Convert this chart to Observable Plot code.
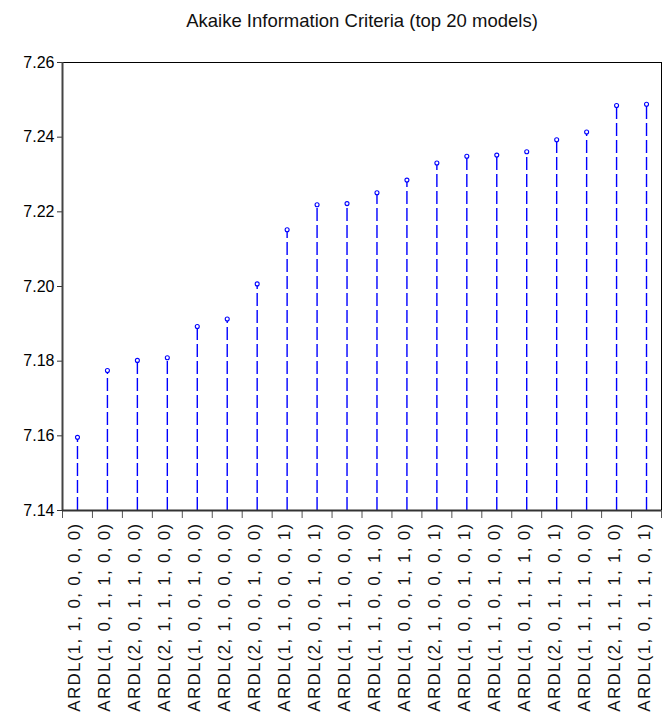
<!DOCTYPE html>
<html>
<head>
<meta charset="utf-8">
<script src="https://cdn.jsdelivr.net/npm/d3@7"></script>
<script src="https://cdn.jsdelivr.net/npm/@observablehq/plot@0.6"></script>
<style>
  body { margin: 0; background: #fff; font-family: "Liberation Sans", Arial, sans-serif; }
  #title { height: 40px; width: 670px; position: relative; }
  #title span { position: absolute; left: 362px; top: 10px; transform: translateX(-50%); font-size: 18.5px; white-space: nowrap; color: #111; font-family: "Liberation Sans Narrow", "Liberation Sans", Arial, sans-serif; }
  g[aria-label="text"] text { letter-spacing: 1.3px; }
</style>
</head>
<body>
<div id="title"><span>Akaike Information Criteria (top 20 models)</span></div>
<div id="chart"></div>
<script>
const models = [
  "ARDL(1, 1, 0, 0, 0, 0)", "ARDL(1, 0, 1, 1, 0, 0)", "ARDL(2, 0, 1, 1, 0, 0)", "ARDL(2, 1, 1, 1, 0, 0)",
  "ARDL(1, 0, 0, 1, 0, 0)", "ARDL(2, 1, 0, 0, 0, 0)", "ARDL(2, 0, 0, 1, 0, 0)", "ARDL(1, 1, 0, 0, 0, 1)",
  "ARDL(2, 0, 0, 1, 0, 1)", "ARDL(1, 1, 1, 0, 0, 0)", "ARDL(1, 1, 0, 0, 1, 0)", "ARDL(1, 0, 0, 1, 1, 0)",
  "ARDL(2, 1, 0, 0, 0, 1)", "ARDL(1, 0, 0, 1, 0, 1)", "ARDL(1, 1, 0, 1, 0, 0)", "ARDL(1, 0, 1, 1, 1, 0)",
  "ARDL(2, 0, 1, 1, 0, 1)", "ARDL(1, 1, 1, 1, 0, 0)", "ARDL(2, 1, 1, 1, 1, 0)", "ARDL(1, 0, 1, 1, 0, 1)"
];
const aic = [
  7.1596, 7.1775, 7.1802, 7.1809, 7.1893, 7.1913, 7.2007, 7.2152, 7.2219, 7.2222,
  7.2251, 7.2285, 7.2331, 7.2349, 7.2352, 7.2361, 7.2393, 7.2414, 7.2485, 7.2488
];
const yTicks = [7.14, 7.16, 7.18, 7.20, 7.22, 7.24, 7.26];

const data = models.map((m, i) => ({model: m, pos: i + 0.5, value: aic[i]}));
const boundaries = d3.range(0, models.length + 1);
const yMin = yTicks[0], yMax = yTicks[yTicks.length - 1];

const chart = Plot.plot({
  width: 670,
  height: 685,
  marginTop: 22,
  marginLeft: 62,
  marginRight: 9,
  marginBottom: 215,
  style: {fontFamily: "'Liberation Sans', Arial, sans-serif", background: "#fff", color: "#000"},
  x: {type: "linear", domain: [0, models.length], label: null},
  y: {domain: [yMin, yMax], label: null},
  marks: [
    Plot.frame({stroke: "#000", strokeWidth: 1}),
    Plot.axisY({ticks: yTicks, tickFormat: d3.format(".2f"), tickSize: 5, tickPadding: 3, fontSize: 16, stroke: "#333", label: null}),
    Plot.axisX({ticks: boundaries, tickFormat: () => "", tickSize: 8, stroke: "#555", label: null}),
    Plot.ruleX(data, {x: "pos", y1: yMin, y2: "value", stroke: "#0000ff", strokeWidth: 1.4, strokeDasharray: "13,4"}),
    Plot.dot(data, {x: "pos", y: "value", r: 2, stroke: "#0000ff", fill: "#fff", strokeWidth: 1.1}),
    Plot.ruleX([0], {stroke: "#444", strokeWidth: 2}),
    Plot.ruleY([yMin], {stroke: "#333", strokeWidth: 2}),
    Plot.text(data, {x: "pos", frameAnchor: "bottom", text: "model", rotate: -90, textAnchor: "end", dy: 12, dx: 3, fontSize: 17, fill: "#111"})
  ]
});
document.getElementById("chart").appendChild(chart);
</script>
</body>
</html>
